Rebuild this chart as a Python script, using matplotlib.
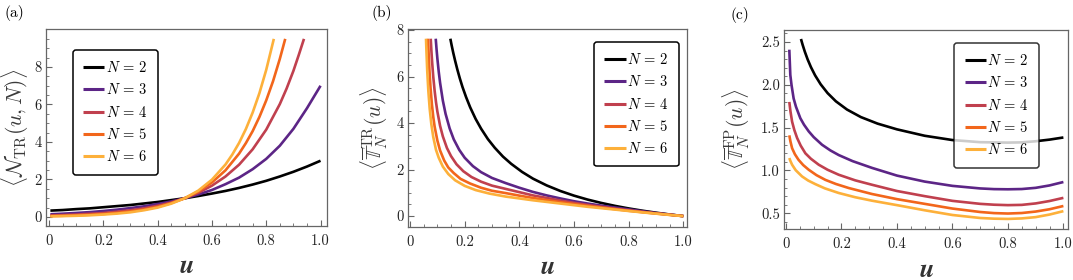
import matplotlib
matplotlib.use("Agg")
import matplotlib.pyplot as plt
from matplotlib.ticker import MultipleLocator

plt.rcParams["font.family"] = "cmr10"
plt.rcParams["mathtext.fontset"] = "cm"
plt.rcParams["axes.formatter.use_mathtext"] = True

labels = ["$N$ = 2", "$N$ = 3", "$N$ = 4", "$N$ = 5", "$N$ = 6"]
colors = ["#000000", "#5c2586", "#c0404e", "#f2661b", "#fdb03a"]

# (a) <N_TR(u,N)>
u_a = [0.005, 0.05, 0.1, 0.15, 0.2, 0.25, 0.3, 0.35, 0.4, 0.45, 0.5,
       0.55, 0.6, 0.65, 0.7, 0.75, 0.8, 0.85, 0.9, 0.95, 1.0]
a_n2 = [0.34, 0.37, 0.42, 0.46, 0.52, 0.58, 0.64, 0.72, 0.80, 0.90, 1.00,
        1.12, 1.25, 1.39, 1.55, 1.73, 1.93, 2.16, 2.41, 2.69, 3.00]
a_n3 = [0.145, 0.175, 0.215, 0.26, 0.32, 0.39, 0.475, 0.57, 0.69, 0.83, 1.00,
        1.20, 1.44, 1.75, 2.10, 2.55, 3.10, 3.80, 4.70, 5.80, 7.00]
u_a4 = u_a[:17] + [0.85, 0.875, 0.9, 0.92, 0.939]
a_n4 = [0.08, 0.10, 0.13, 0.17, 0.21, 0.28, 0.36, 0.46, 0.60, 0.77, 1.00,
        1.29, 1.67, 2.16, 2.79, 3.61, 4.66, 6.02, 6.85, 7.79, 8.65, 9.50]
u_a5 = u_a[:15] + [0.725, 0.75, 0.775, 0.8, 0.825, 0.85, 0.87]
a_n5 = [0.05, 0.065, 0.088, 0.12, 0.16, 0.22, 0.30, 0.40, 0.54, 0.74, 1.00,
        1.36, 1.84, 2.49, 3.38, 3.94, 4.58, 5.34, 6.22, 7.24, 8.43, 9.50]
u_a6 = u_a[:14] + [0.675, 0.7, 0.725, 0.75, 0.775, 0.8, 0.828]
a_n6 = [0.034, 0.046, 0.064, 0.09, 0.13, 0.18, 0.25, 0.36, 0.50, 0.71, 1.00,
        1.41, 1.99, 2.80, 3.33, 3.95, 4.69, 5.57, 6.61, 7.85, 9.50]

# (b) <T_N^TR(u)>
u_b2 = [0.1475, 0.152, 0.158, 0.165, 0.173, 0.182, 0.192, 0.205, 0.22, 0.24,
        0.26, 0.285, 0.31, 0.34, 0.37, 0.41, 0.45, 0.5, 0.55, 0.6, 0.65, 0.7,
        0.75, 0.8, 0.85, 0.9, 0.95, 1.0]
b_n2 = [7.63, 7.36, 7.03, 6.68, 6.31, 5.93, 5.55, 5.12, 4.68, 4.18,
        3.76, 3.31, 2.94, 2.56, 2.25, 1.90, 1.61, 1.32, 1.08, 0.88, 0.71, 0.566,
        0.44, 0.33, 0.233, 0.147, 0.069, 0.0]
u_b3 = [0.094, 0.097, 0.1, 0.105, 0.11, 0.12, 0.13, 0.145, 0.16, 0.18, 0.2,
        0.23, 0.26, 0.3, 0.35, 0.4, 0.45, 0.5, 0.55, 0.6, 0.65, 0.7, 0.75,
        0.8, 0.85, 0.9, 0.95, 1.0]
b_n3 = [7.63, 7.18, 6.78, 6.21, 5.73, 4.97, 4.40, 3.77, 3.30, 2.85, 2.51,
        2.15, 1.89, 1.64, 1.42, 1.22, 1.04, 0.89, 0.76, 0.64, 0.54, 0.45, 0.37,
        0.29, 0.21, 0.13, 0.065, 0.0]
u_b4 = [0.0757, 0.078, 0.081, 0.085, 0.09, 0.095, 0.1, 0.11, 0.12, 0.135, 0.15,
        0.17, 0.195, 0.225, 0.26, 0.3, 0.35, 0.4, 0.45, 0.5, 0.55, 0.6, 0.65,
        0.7, 0.75, 0.8, 0.85, 0.9, 0.95, 1.0]
b_n4 = [7.63, 7.14, 6.60, 5.99, 5.39, 4.90, 4.50, 3.88, 3.43, 2.93, 2.58,
        2.23, 1.93, 1.68, 1.48, 1.31, 1.17, 1.03, 0.89, 0.78, 0.67, 0.57, 0.48,
        0.40, 0.32, 0.25, 0.18, 0.12, 0.06, 0.0]
u_b5 = [0.066, 0.068, 0.071, 0.075, 0.08, 0.085, 0.09, 0.1, 0.11, 0.125, 0.14,
        0.16, 0.185, 0.22, 0.26, 0.3, 0.35, 0.4, 0.45, 0.5, 0.55, 0.6, 0.65,
        0.7, 0.75, 0.8, 0.85, 0.9, 0.95, 1.0]
b_n5 = [7.63, 7.02, 6.28, 5.52, 4.81, 4.27, 3.85, 3.25, 2.82, 2.39, 2.09,
        1.85, 1.60, 1.40, 1.22, 1.09, 0.99, 0.88, 0.78, 0.69, 0.60, 0.52, 0.44,
        0.37, 0.30, 0.23, 0.17, 0.11, 0.055, 0.0]
u_b6 = [0.0585, 0.06, 0.063, 0.067, 0.072, 0.078, 0.085, 0.095, 0.105, 0.12,
        0.14, 0.165, 0.2, 0.24, 0.29, 0.35, 0.4, 0.45, 0.5, 0.55, 0.6, 0.65,
        0.7, 0.75, 0.8, 0.85, 0.9, 0.95, 1.0]
b_n6 = [7.63, 7.10, 6.23, 5.38, 4.61, 3.95, 3.40, 2.85, 2.51, 2.13,
        1.81, 1.54, 1.30, 1.12, 0.97, 0.84, 0.76, 0.68, 0.61, 0.54, 0.47, 0.40,
        0.34, 0.28, 0.22, 0.16, 0.105, 0.05, 0.0]

# (c) <T_N^FP(u)>
u_c2 = [0.054, 0.06, 0.068, 0.078, 0.09, 0.105, 0.125, 0.15, 0.18, 0.22, 0.27,
        0.33, 0.4, 0.5, 0.6, 0.7, 0.8, 0.85, 0.9, 0.95, 1.0]
c_n2 = [2.535, 2.467, 2.386, 2.297, 2.206, 2.11, 2.006, 1.903, 1.807, 1.711, 1.623,
        1.547, 1.48, 1.405, 1.355, 1.33, 1.325, 1.328, 1.341, 1.36, 1.385]
u_c3 = [0.012, 0.0156, 0.02, 0.0276, 0.036, 0.0517, 0.065, 0.082, 0.1, 0.13,
        0.16, 0.19, 0.24, 0.31, 0.4, 0.5, 0.6, 0.7, 0.75, 0.8, 0.85, 0.9, 0.95, 1.0]
c_n3 = [2.41, 2.115, 1.997, 1.84, 1.744, 1.61, 1.534, 1.456, 1.389, 1.30,
        1.234, 1.18, 1.109, 1.03, 0.94, 0.87, 0.82, 0.79, 0.782, 0.78, 0.783, 0.797, 0.825, 0.865]
u_c4 = [0.012, 0.016, 0.022, 0.03, 0.04, 0.053, 0.07, 0.09, 0.118, 0.15, 0.19,
        0.25, 0.31, 0.4, 0.5, 0.6, 0.7, 0.75, 0.8, 0.85, 0.9, 0.95, 1.0]
c_n4 = [1.80, 1.693, 1.57, 1.473, 1.38, 1.29, 1.20, 1.136, 1.067, 1.008, 0.95,
        0.884, 0.833, 0.76, 0.70, 0.645, 0.61, 0.60, 0.595, 0.598, 0.615, 0.643, 0.68]
u_c5 = [0.012, 0.016, 0.022, 0.032, 0.045, 0.062, 0.082, 0.11, 0.142, 0.18, 0.226,
        0.31, 0.4, 0.5, 0.6, 0.7, 0.75, 0.8, 0.85, 0.9, 0.95, 1.0]
c_n5 = [1.41, 1.34, 1.26, 1.19, 1.125, 1.063, 1.008, 0.945, 0.89, 0.842, 0.795,
        0.725, 0.665, 0.61, 0.555, 0.515, 0.502, 0.497, 0.503, 0.52, 0.547, 0.585]
u_c6 = [0.012, 0.016, 0.022, 0.035, 0.058, 0.08, 0.106, 0.14, 0.19, 0.25, 0.31,
        0.4, 0.5, 0.6, 0.7, 0.75, 0.8, 0.85, 0.9, 0.95, 1.0]
c_n6 = [1.145, 1.11, 1.067, 1.003, 0.93, 0.882, 0.84, 0.791, 0.737, 0.687, 0.647,
        0.595, 0.535, 0.48, 0.445, 0.437, 0.434, 0.44, 0.455, 0.485, 0.525]

panels = [
    dict(rect=[0.0429, 0.1929, 0.2614, 0.7018], xlim=(-0.011, 1.022), ylim=(-0.48, 10.0),
         series=[(u_a, a_n2), (u_a, a_n3), (u_a4, a_n4), (u_a5, a_n5), (u_a6, a_n6)],
         yticks=[0, 2, 4, 6, 8], ylabs=["0", "2", "4", "6", "8"], yminor=0.5,
         ylabel=r"$\langle\mathcal{N}_{\mathrm{TR}}(u,N)\rangle$", ylx=-0.11,
         leg=dict(loc="upper left", bbox_to_anchor=(0.096, 0.896)), alpha=1.0,
         tag="(a)", tagpos=(0.004, 0.955)),
    dict(rect=[0.3800, 0.1900, 0.2600, 0.7050], xlim=(-0.0084, 1.0124), ylim=(-0.46, 8.03),
         series=[(u_b2, b_n2), (u_b3, b_n3), (u_b4, b_n4), (u_b5, b_n5), (u_b6, b_n6)],
         yticks=[0, 2, 4, 6, 8], ylabs=["0", "2", "4", "6", "8"], yminor=0.5,
         ylabel=r"$\langle\overline{\mathbb{T}}_{N}^{\mathrm{TR}}(u)\rangle$", ylx=-0.122,
         leg=dict(loc="upper right", bbox_to_anchor=(0.972, 0.937)), alpha=1.0,
         tag="(b)", tagpos=(0.346, 0.955)),
    dict(rect=[0.7307, 0.1811, 0.2650, 0.7118], xlim=(-0.007, 1.018), ylim=(0.313, 2.64),
         series=[(u_c2, c_n2), (u_c3, c_n3), (u_c4, c_n4), (u_c5, c_n5), (u_c6, c_n6)],
         yticks=[0.5, 1.0, 1.5, 2.0, 2.5], ylabs=["0.5", "1.0", "1.5", "2.0", "2.5"], yminor=0.1,
         ylabel=r"$\langle\overline{\mathbb{T}}_{N}^{\mathrm{FP}}(u)\rangle$", ylx=-0.17,
         leg=dict(loc="upper right", bbox_to_anchor=(0.897, 0.935)), alpha=0.8,
         tag="(c)", tagpos=(0.681, 0.945)),
]

fig = plt.figure(figsize=(10.73, 2.8), dpi=100)

for p in panels:
    ax = fig.add_axes(p["rect"])
    for (x, y), c, lab in zip(p["series"], colors, labels):
        ax.plot(x, y, color=c, lw=1.9, label=lab, solid_capstyle="butt",
                solid_joinstyle="round")
    ax.set_xlim(*p["xlim"])
    ax.set_ylim(*p["ylim"])
    ax.set_xticks([0, 0.2, 0.4, 0.6, 0.8, 1.0], ["0", "0.2", "0.4", "0.6", "0.8", "1.0"])
    ax.set_yticks(p["yticks"], p["ylabs"])
    ax.xaxis.set_minor_locator(MultipleLocator(0.05))
    ax.yaxis.set_minor_locator(MultipleLocator(p["yminor"]))
    ax.tick_params(which="both", direction="in", color="#666666", labelsize=10.5,
                   labelcolor="#222222", top=False, right=False)
    ax.tick_params(which="major", length=4, width=0.8)
    ax.tick_params(which="minor", length=2, width=0.6)
    ax.tick_params(axis="x", pad=6)
    ax.tick_params(axis="y", pad=3)
    for s in ax.spines.values():
        s.set_color("#666666")
        s.set_linewidth(0.9)
    ax.set_ylabel(p["ylabel"], fontsize=15.5, color="#3a3a3a", va="center")
    ax.yaxis.set_label_coords(p["ylx"], 0.5)
    ax.set_xlabel(r"$\boldsymbol{u}$", fontsize=19, color="#333333", va="center")
    ax.xaxis.set_label_coords(0.5, -0.205)
    leg = ax.legend(fontsize=10.5, handlelength=1.45, handletextpad=0.1,
                    labelspacing=0.5, borderpad=0.7, borderaxespad=0.0, fancybox=True,
                    framealpha=p["alpha"], edgecolor="black", **p["leg"])
    leg.get_frame().set_linewidth(1.1)
    for line in leg.get_lines():
        line.set_linewidth(2.2)
    fig.text(p["tagpos"][0], p["tagpos"][1], p["tag"], fontsize=11, va="center")

fig.savefig("out.png", dpi=100)
